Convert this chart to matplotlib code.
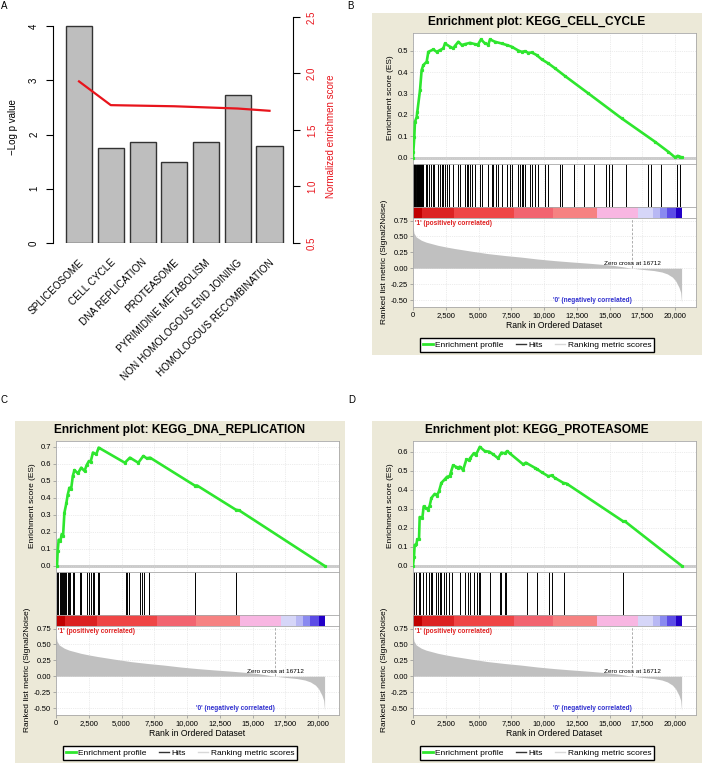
import matplotlib
matplotlib.use('Agg')
import matplotlib.pyplot as plt
from matplotlib.patches import Rectangle
from matplotlib.lines import Line2D
from matplotlib.ticker import FuncFormatter
from matplotlib.transforms import offset_copy

plt.rcParams['font.family'] = ['Liberation Sans', 'DejaVu Sans']

W, H = 703, 764

# ---- panel A data
pathways = ['SPLICEOSOME', 'CELL CYCLE', 'DNA REPLICATION', 'PROTEASOME',
            'PYRIMIDINE METABOLISM', 'NON HOMOLOGOUS END JOINING',
            'HOMOLOGOUS RECOMBINATION']
neg_log_p = [4.0, 1.76, 1.86, 1.49, 1.87, 2.72, 1.79]
nes = [1.93, 1.72, 1.715, 1.71, 1.70, 1.69, 1.67]

# ---- ranked list metric (same dataset for B, C, D)
metric_rank = [0, 76, 254, 635, 1000, 1904, 2500, 3173, 4400, 5711, 7000, 8249,
               9500, 10787, 12000, 13325, 14500, 15355, 16712, 17500, 18401,
               19000, 19416, 19800, 20050, 20300, 20431, 20500]
metric_val = [0.65, 0.55, 0.49, 0.44, 0.41, 0.36, 0.335, 0.31, 0.27, 0.23, 0.2,
              0.175, 0.145, 0.12, 0.1, 0.08, 0.06, 0.043, 0.0, -0.018, -0.037,
              -0.06, -0.09, -0.14, -0.2, -0.3, -0.38, -0.54]
zero_cross = 16712

band_edges = [0, 700, 3100, 7700, 10700, 14050, 17150, 18300, 18850, 19350, 20050, 20500]
band_colors = ['#C00000', '#DC2222', '#EF4545', '#F26470', '#F68282', '#F8B6E2',
               '#D6D6F8', '#B8B8F4', '#8A8AF0', '#5C4CE6', '#2200C8']

# ---- B: KEGG_CELL_CYCLE
b_es_rank = [0, 25, 100, 150, 280, 330, 535, 660, 790, 1045, 1170, 1550, 1805, 2060,
             2315, 2440, 2825, 3080, 3205, 3460, 3715, 3970, 4350, 4730, 4935, 5190,
             5495, 5750, 5875, 6260, 6765, 7150, 7530, 8040, 8295, 8550, 8805, 9060,
             9440, 9820, 10330, 10840, 11600, 13380, 15930, 18470, 19490, 20000,
             20200, 20380, 20500]
b_es_val = [0.0, 0.028, 0.098, 0.168, 0.19, 0.215, 0.316, 0.41, 0.433, 0.449, 0.495,
            0.506, 0.495, 0.503, 0.511, 0.534, 0.519, 0.511, 0.523, 0.542, 0.527,
            0.531, 0.537, 0.531, 0.527, 0.553, 0.534, 0.529, 0.553, 0.542, 0.534,
            0.527, 0.519, 0.501, 0.495, 0.498, 0.49, 0.492, 0.48, 0.46, 0.441,
            0.418, 0.382, 0.301, 0.184, 0.075, 0.028, 0.002, 0.009, 0.005, 0.002]
b_hits = [5, 40, 75, 110, 150, 190, 230, 270, 310, 350, 390, 430, 470, 510, 550,
          590, 630, 670, 710, 750, 785, 970, 1090, 1220, 1350, 1500, 1600, 1930,
          2060, 2190, 2320, 2440, 2570, 2770, 3080, 3460, 3590, 3970, 4100, 4220,
          4350, 4480, 4730, 5110, 5240, 5750, 6000, 6130, 6340, 6510, 6770, 7150,
          7400, 7530, 8040, 8170, 8300, 8420, 8550, 8930, 9060, 9310, 9570, 10080,
          10330, 11200, 11400, 12270, 13050, 13790, 14750, 14960, 15210, 16280,
          17930, 18190, 18950, 20150, 20360]

# ---- C: KEGG_DNA_REPLICATION
c_es_rank = [0, 77, 128, 205, 333, 436, 539, 641, 795, 897, 1026, 1154, 1282, 1410,
             1667, 1923, 2179, 2332, 2512, 2641, 2819, 3076, 3256, 5255, 5640, 6281,
             6665, 6922, 7178, 10587, 10767, 13717, 13971, 20500]
c_es_val = [0.0, 0.0, 0.085, 0.154, 0.144, 0.187, 0.178, 0.312, 0.371, 0.42, 0.46,
            0.45, 0.529, 0.564, 0.544, 0.578, 0.558, 0.592, 0.617, 0.611, 0.667,
            0.657, 0.696, 0.607, 0.637, 0.607, 0.647, 0.633, 0.637, 0.473, 0.473,
            0.331, 0.327, 0.0]
c_hits = [77, 180, 282, 385, 461, 539, 641, 718, 795, 897, 974, 1102, 1282, 1410,
          1795, 1923, 2384, 2486, 2691, 2819, 2897, 3204, 3282, 5307, 5409, 5588,
          6409, 6537, 6742, 7101, 10639, 13766]

# ---- D: KEGG_PROTEASOME
d_es_rank = [0, 76, 127, 255, 331, 459, 510, 713, 815, 968, 1147, 1274, 1401, 1656,
             1835, 1987, 2166, 2421, 2599, 2803, 2879, 3058, 3261, 3440, 3567, 3822,
             4077, 4281, 4383, 4637, 4790, 5096, 5478, 5809, 6115, 6497, 6752, 7007,
             7185, 7389, 8408, 8612, 9300, 9427, 9810, 10319, 10574, 10829, 11466,
             11721, 16052, 16180, 20500]
d_es_val = [0.0, 0.048, 0.109, 0.113, 0.139, 0.139, 0.256, 0.251, 0.312, 0.304, 0.295,
            0.316, 0.356, 0.378, 0.369, 0.392, 0.436, 0.454, 0.468, 0.471, 0.489,
            0.528, 0.521, 0.515, 0.521, 0.503, 0.559, 0.556, 0.568, 0.591, 0.581,
            0.625, 0.603, 0.6, 0.586, 0.565, 0.595, 0.591, 0.603, 0.591, 0.533,
            0.542, 0.515, 0.51, 0.492, 0.471, 0.475, 0.462, 0.436, 0.432, 0.233,
            0.233, 0.0]
d_hits = [76, 204, 433, 510, 764, 968, 1223, 1350, 1478, 1784, 1911, 2038, 2166,
          2370, 2548, 2752, 3007, 3567, 3950, 4204, 4383, 4637, 4892, 5070, 5147,
          5860, 6675, 6752, 7007, 7134, 8663, 9427, 10396, 10574, 11542, 16052]

GREEN = '#2EE62E'
BEIGE = '#ECE9D8'

fig = plt.figure(figsize=(W / 100, H / 100), dpi=100)


def px_axes(x0, y0, x1, y1):
    return fig.add_axes([x0 / W, 1 - y1 / H, (x1 - x0) / W, (y1 - y0) / H])


def ftext(x, y, s, **kw):
    return fig.text(x / W, 1 - y / H, s, **kw)


# ================= panel A =================
ax = px_axes(53, 17, 293, 243)
xs = list(range(len(pathways)))
ax.bar(xs, neg_log_p, width=0.82, color='#BEBEBE', edgecolor='#333333', linewidth=1.0)
ax.set_xlim(-0.82, 6.74)
ax.set_ylim(0, 4.166)
for s in ['top', 'right', 'bottom']:
    ax.spines[s].set_visible(False)
ax.spines['left'].set_bounds(0, 4)
ax.set_yticks([0, 1, 2, 3, 4])
ax.tick_params(axis='y', labelrotation=90, labelsize=7, length=5, pad=5)
for lab in ax.get_yticklabels():
    lab.set_va('center')
ax.set_xticks([])
tr = offset_copy(ax.get_xaxis_transform(), fig=fig, x=5, y=-20, units='dots')
for i, name in enumerate(pathways):
    ax.text(i, 0, name, transform=tr, rotation=45, ha='right', va='baseline',
            rotation_mode='anchor', fontsize=7.2)

ax2 = ax.twinx()
ax2.plot(xs, nes, color='#E8141C', lw=1.6)
ax2.set_ylim(0.5, 2.5)
for s in ['top', 'left', 'bottom']:
    ax2.spines[s].set_visible(False)
ax2.spines['right'].set_bounds(0.5, 2.5)
ax2.set_yticks([0.5, 1.0, 1.5, 2.0, 2.5])
ax2.yaxis.set_major_formatter(FuncFormatter(lambda v, p: f'{v:.1f}'))
ax2.tick_params(axis='y', labelrotation=90, labelsize=7, length=5, pad=5,
                labelcolor='#E8141C')
for lab in ax2.get_yticklabels():
    lab.set_va('center')

ftext(13, 127, '\u2212Log p value', rotation=90, ha='center', va='center', fontsize=7)
ftext(331, 136, 'Normalized enrichmen score', rotation=90, ha='center', va='center',
      fontsize=7, color='#E8141C')

# ================= GSEA panels =================
comma = FuncFormatter(lambda v, p: f'{int(v):,}')


def style_box(a):
    for s in a.spines.values():
        s.set_color('#A8A8A8')
        s.set_linewidth(0.6)
    a.tick_params(length=2, width=0.5, color='#909090', labelsize=5.5, pad=1.5)


def gsea_panel(fx, fy, title, es_rank, es_val, hits, es_lim, es_ticks):
    fig.add_artist(Rectangle((fx / W, 1 - (fy + 342) / H), 330 / W, 342 / H,
                             transform=fig.transFigure, facecolor=BEIGE,
                             edgecolor='none', zorder=-1))
    x0, x1 = fx + 41, fx + 324
    xt = list(range(0, 20001, 2500))
    ftext(fx + 165, fy + 9, title, ha='center', va='center', fontsize=8.6,
          fontweight='bold')

    # enrichment score
    a1 = px_axes(x0, fy + 20, x1, fy + 151)
    a1.set_facecolor('white')
    a1.axhline(0, color='#C8C8C8', lw=2, zorder=1)
    a1.plot(es_rank, es_val, color=GREEN, lw=1.9, zorder=3,
            marker='s', ms=1.3, mec=GREEN)
    a1.set_xlim(0, 21600)
    a1.set_ylim(*es_lim)
    a1.set_yticks(es_ticks)
    a1.yaxis.set_major_formatter(FuncFormatter(lambda v, p: f'{v:.1f}'))
    a1.set_xticks(xt)
    a1.set_xticklabels([])
    a1.grid(True, color='#DADADA', lw=0.5, ls=':')
    style_box(a1)
    a1.tick_params(axis='x', length=0)

    # hits
    a2 = px_axes(x0, fy + 151, x1, fy + 194)
    a2.vlines(hits, 0, 1, colors='black', linewidth=0.7)
    a2.set_xlim(0, 21600)
    a2.set_ylim(0, 1)
    a2.set_xticks(xt)
    a2.set_xticklabels([])
    a2.set_yticks([])
    a2.grid(True, axis='x', color='#E4E4E4', lw=0.5, ls=':')
    style_box(a2)
    a2.tick_params(axis='x', length=0)

    # colour band
    a3 = px_axes(x0, fy + 194, x1, fy + 205)
    widths = [band_edges[i + 1] - band_edges[i] for i in range(len(band_colors))]
    a3.bar(band_edges[:-1], [1] * len(band_colors), width=widths, align='edge',
           color=band_colors, linewidth=0)
    a3.set_xlim(0, 21600)
    a3.set_ylim(0, 1)
    a3.set_xticks([])
    a3.set_yticks([])
    style_box(a3)

    # ranked list metric
    a4 = px_axes(x0, fy + 205, x1, fy + 294)
    a4.fill_between(metric_rank, metric_val, 0, color='#C0C0C0', lw=0, zorder=2)
    a4.axvline(zero_cross, ymin=(0 + 0.61) / 1.4, ymax=1, color='#A0A0A0', lw=0.6,
               ls=(0, (3, 2)), zorder=3)
    a4.set_xlim(0, 21600)
    a4.set_ylim(-0.61, 0.79)
    a4.set_yticks([0.75, 0.5, 0.25, 0.0, -0.25, -0.5])
    a4.yaxis.set_major_formatter(FuncFormatter(lambda v, p: f'{v:.2f}'))
    a4.set_xticks(xt)
    a4.xaxis.set_major_formatter(comma)
    a4.grid(True, color='#DADADA', lw=0.5, ls=':')
    style_box(a4)
    a4.text(120, 0.765, "'1' (positively correlated)", color='#E02020', fontsize=4.7,
            fontweight='bold', va='top', ha='left', zorder=4)
    a4.text(zero_cross, -0.565, "'0' (negatively correlated)", color='#3030D0',
            fontsize=4.7, fontweight='bold', va='bottom', ha='right', zorder=4)
    a4.text(zero_cross, 0.08, 'Zero cross at 16712', color='black', fontsize=4.6,
            va='center', ha='center', zorder=4)

    ftext(fx + 18, fy + 85, 'Enrichment score (ES)', rotation=90, ha='center',
          va='center', fontsize=6)
    ftext(fx + 13, fy + 249, 'Ranked list metric (Signal2Noise)', rotation=90,
          ha='center', va='center', fontsize=6)
    ftext((x0 + x1) / 2, fy + 312, 'Rank in Ordered Dataset', ha='center',
          va='center', fontsize=6.2)

    handles = [Line2D([], [], color=GREEN, lw=2),
               Line2D([], [], color='#333333', lw=1),
               Line2D([], [], color='#D8D8D8', lw=1)]
    fig.legend(handles, ['Enrichment profile', 'Hits', 'Ranking metric scores'],
               loc='center', bbox_to_anchor=((fx + 165) / W, 1 - (fy + 332) / H),
               ncol=3, fontsize=6, frameon=True, fancybox=False,
               edgecolor='black', framealpha=1, borderpad=0.35, handlelength=1.2,
               handletextpad=0.3, columnspacing=1.5)


gsea_panel(372, 13, 'Enrichment plot: KEGG_CELL_CYCLE', b_es_rank, b_es_val,
           b_hits, (-0.029, 0.583), [0.0, 0.1, 0.2, 0.3, 0.4, 0.5])
gsea_panel(15, 421, 'Enrichment plot: KEGG_DNA_REPLICATION', c_es_rank, c_es_val,
           c_hits, (-0.036, 0.735), [0.0, 0.1, 0.2, 0.3, 0.4, 0.5, 0.6, 0.7])
gsea_panel(372, 421, 'Enrichment plot: KEGG_PROTEASOME', d_es_rank, d_es_val,
           d_hits, (-0.033, 0.656), [0.0, 0.1, 0.2, 0.3, 0.4, 0.5, 0.6])

for lx, ly, letter in [(4, 6, 'A'), (350, 6, 'B'), (4, 400, 'C'), (352, 400, 'D')]:
    ftext(lx, ly, letter, ha='center', va='center', fontsize=7)

fig.savefig('out.png', dpi=100)
